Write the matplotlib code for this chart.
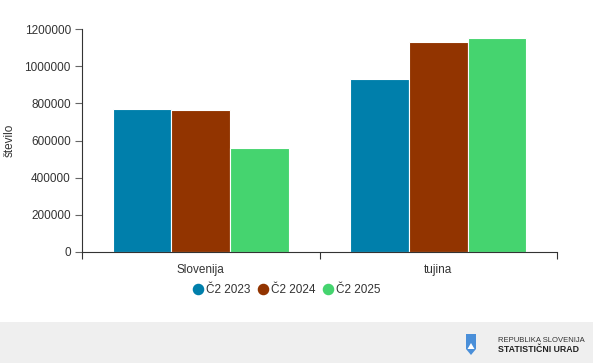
import matplotlib
matplotlib.use("Agg")
import matplotlib.pyplot as plt
from matplotlib.patches import Rectangle, Polygon
from matplotlib.lines import Line2D
import numpy as np

categories = ["Slovenija", "tujina"]
series_names = ["Č2 2023", "Č2 2024", "Č2 2025"]
values_2023 = [769000, 931000]
values_2024 = [764000, 1130000]
values_2025 = [560000, 1151000]
yticks = [0, 200000, 400000, 600000, 800000, 1000000, 1200000]
colors = ["#007fab", "#923400", "#45d46f"]

plt.rcParams['font.family'] = ['Liberation Sans', 'DejaVu Sans']

W, H = 593, 363
fig = plt.figure(figsize=(W / 100, H / 100), dpi=100)

# footer band
fig.patches.append(Rectangle((0, 0), 1, 41 / H, transform=fig.transFigure,
                             facecolor="#efefef", edgecolor="none", zorder=0))

ax = fig.add_axes([82 / W, (H - 252) / H, 475 / W, 223 / H])
series = [values_2023, values_2024, values_2025]
x = np.arange(len(categories))
bw = 0.247
for i, (vals, c, name) in enumerate(zip(series, colors, series_names)):
    ax.bar(x + (i - 1) * bw, vals, width=bw, color=c, edgecolor="white",
           linewidth=0.8, label=name)

ax.set_xlim(-0.5, 1.5)
ax.set_ylim(0, 1200000)
ax.set_yticks(yticks)
ax.set_yticklabels([str(v) for v in yticks], fontsize=8.5, color="#333333")
ax.set_xticks(x)
ax.set_xticklabels(categories, fontsize=8.5, color="#333333")
ax.set_xticks([-0.5, 0.5, 1.5], minor=True)
ax.tick_params(axis="x", which="major", length=0, pad=9)
ax.tick_params(axis="x", which="minor", length=5, color="#333333", width=0.8)
ax.tick_params(axis="y", length=5, color="#666666", width=0.8, pad=3)
for s in ["top", "right"]:
    ax.spines[s].set_visible(False)
ax.spines["left"].set_color("#333333")
ax.spines["bottom"].set_color("#333333")
ax.spines["left"].set_linewidth(0.8)
ax.spines["bottom"].set_linewidth(0.8)

fig.text(10 / W, 1 - 140 / H, "število", rotation=90, fontsize=8.5,
         color="#333333", ha="center", va="center")

handles = [Line2D([], [], marker="o", linestyle="", markersize=7.3,
                  markerfacecolor=c, markeredgecolor=c) for c in colors]
fig.legend(handles, series_names, loc="center",
           bbox_to_anchor=(287 / W, 1 - 290 / H), bbox_transform=fig.transFigure,
           ncol=3, frameon=False, fontsize=8.5, handlelength=0.8,
           handletextpad=0.25, columnspacing=0.7, labelcolor="#333333",
           borderpad=0, borderaxespad=0)

# logo
shield = Polygon([[466 / W, 1 - 334 / H], [476 / W, 1 - 334 / H],
                  [476 / W, 1 - 349 / H], [471 / W, 1 - 355 / H],
                  [466 / W, 1 - 349 / H]], closed=True,
                 transform=fig.transFigure, facecolor="#4a8fd9",
                 edgecolor="none")
fig.patches.append(shield)
fig.patches.append(Polygon([[467.5 / W, 1 - 349 / H], [474.5 / W, 1 - 349 / H],
                            [471 / W, 1 - 343 / H]], closed=True,
                           transform=fig.transFigure, facecolor="white",
                           edgecolor="none"))
fig.text(498 / W, 1 - 340 / H, "REPUBLIKA SLOVENIJA", fontsize=5.5,
         color="#333333", va="center", ha="left")
fig.text(498 / W, 1 - 350 / H, "STATISTIČNI URAD", fontsize=6.3,
         color="#222222", va="center", ha="left", fontweight="bold")

fig.savefig("out.png", dpi=100)
